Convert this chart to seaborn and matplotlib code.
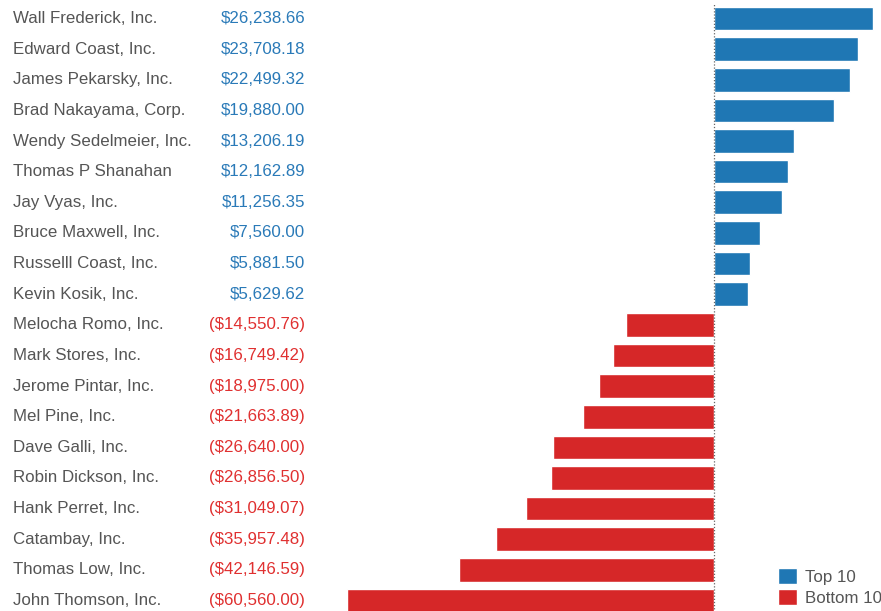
import matplotlib
matplotlib.use("Agg")
import matplotlib.pyplot as plt
import matplotlib.transforms as mtransforms
from matplotlib.patches import Patch
import seaborn as sns
import pandas as pd

names = ["Wall Frederick, Inc.", "Edward Coast, Inc.", "James Pekarsky, Inc.", "Brad Nakayama, Corp.",
         "Wendy Sedelmeier, Inc.", "Thomas P Shanahan", "Jay Vyas, Inc.", "Bruce Maxwell, Inc.",
         "Russelll Coast, Inc.", "Kevin Kosik, Inc.", "Melocha Romo, Inc.", "Mark Stores, Inc.",
         "Jerome Pintar, Inc.", "Mel Pine, Inc.", "Dave Galli, Inc.", "Robin Dickson, Inc.",
         "Hank Perret, Inc.", "Catambay, Inc.", "Thomas Low, Inc.", "John Thomson, Inc."]
values = [26238.66, 23708.18, 22499.32, 19880.00, 13206.19, 12162.89, 11256.35, 7560.00, 5881.50, 5629.62,
          -14550.76, -16749.42, -18975.00, -21663.89, -26640.00, -26856.50, -31049.07, -35957.48,
          -42146.59, -60560.00]
groups = ["Top 10"] * 10 + ["Bottom 10"] * 10
colors = {"Top 10": "#1f77b4", "Bottom 10": "#d62728"}

df = pd.DataFrame({"name": names, "value": values, "group": groups})

sns.set_style("white")
plt.rcParams["font.family"] = ["Liberation Sans", "DejaVu Sans"]

fig = plt.figure(figsize=(8.81, 6.11), dpi=100)
W, H = 881, 611
ax_left, ax_right = 330, 881
first, last = 18.5, 600.5
row = (last - first) / 19
ax_top = first - row / 2
ax_bot = last + row / 2
ax = fig.add_axes([ax_left / W, 1 - ax_bot / H, (ax_right - ax_left) / W, (ax_bot - ax_top) / H])

sns.barplot(data=df, y="name", x="value", hue="group", palette=colors, dodge=False,
            orient="h", width=0.77, ax=ax, legend=False, saturation=1)

scale = (873 - 714) / 26238.66
ax.set_xlim(-(714 - ax_left) / scale, (ax_right - 714) / scale)
ax.set_ylim(19.5, -0.5)
ax.axvline(0, color="#666666", linestyle=(0, (1, 1.5)), linewidth=0.9, zorder=3)
for s in ax.spines.values():
    s.set_visible(False)
ax.set_xticks([])
ax.set_yticks([])
ax.set_xlabel("")
ax.set_ylabel("")

fs = 12.2
trans = mtransforms.blended_transform_factory(fig.transFigure, ax.transData)
for i, (n, v, g) in enumerate(zip(names, values, groups)):
    ax.text(13 / W, i, n, transform=trans, ha="left", va="center", fontsize=fs, color="#555555")
    lab = f"${v:,.2f}" if v >= 0 else f"(${-v:,.2f})"
    ax.text(305 / W, i, lab, transform=trans, ha="right", va="center", fontsize=fs,
            color="#2a7ab8" if g == "Top 10" else "#e03030")

handles = [Patch(facecolor=colors[k], label=k) for k in ["Top 10", "Bottom 10"]]
fig.legend(handles=handles, loc="lower left", bbox_to_anchor=(778 / W, 5 / H), frameon=False,
           borderpad=0, borderaxespad=0,
           fontsize=fs, handlelength=1.1, handleheight=1.1, handletextpad=0.5, labelspacing=0.25,
           labelcolor="#555555")

fig.savefig("out.png", dpi=100)
